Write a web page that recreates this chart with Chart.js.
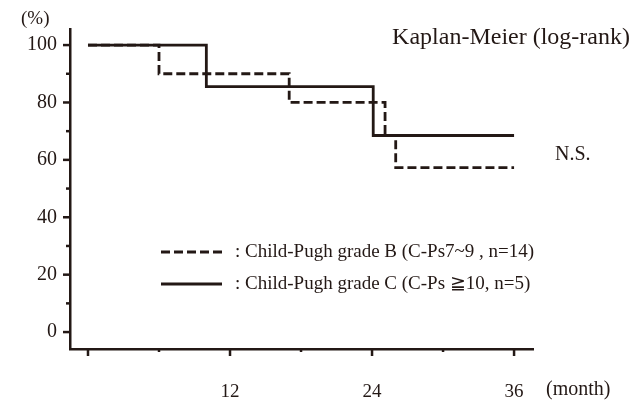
<!DOCTYPE html>
<html>
<head>
<meta charset="utf-8">
<script src="https://cdn.jsdelivr.net/npm/chart.js@4/dist/chart.umd.min.js"></script>
<style>
  html, body { margin: 0; padding: 0; background: #fff; }
  #wrap { width: 633px; height: 401px; }
</style>
</head>
<body>
<div id="wrap"><canvas id="kmChart" width="633" height="401"></canvas></div>
<script>
// Kurva Kaplan-Meier: waktu (bulan) dan survival (%)
const gradeBTimes = [0, 6, 17, 25.1, 26, 36];
const gradeBSurv = [100, 90, 80, 68.5, 57.3, 57.3];
const gradeCTimes = [0, 10, 24.1, 36];
const gradeCSurv = [100, 85.5, 68.5, 68.5];

const gradeBLabel = ": Child-Pugh grade B (C-Ps7~9 , n=14)";
const gradeCLabel = ": Child-Pugh grade C (C-Ps \u226710, n=5)";

// tick sumbu
const xTicks = [0, 6, 12, 18, 24, 30, 36];
const xLabelTicks = [12, 24, 36];
const xMajorTicks = [0, 12, 24, 36];
const yTicks = [0, 10, 20, 30, 40, 50, 60, 70, 80, 90, 100];
const yLabelTicks = [0, 20, 40, 60, 80, 100];

const ink = "#231815";
const serif = "'Liberation Serif', 'Times New Roman', serif";

function toPoints(xs, ys) {
    return xs.map((x, i) => ({ x: x, y: ys[i] }));
}

// plugin untuk tick pendek/panjang dan teks tambahan
const decorPlugin = {
    id: "decor",
    afterDraw(chart) {
        const c = chart.ctx;
        const xs = chart.scales.x;
        const ys = chart.scales.y;
        const left = chart.chartArea.left;
        const bottom = chart.chartArea.bottom;
        c.save();
        c.strokeStyle = ink;
        c.lineWidth = 2.5;
        c.lineCap = "butt";
        yTicks.forEach((v) => {
            const py = ys.getPixelForValue(v);
            const len = yLabelTicks.includes(v) ? 7 : 4;
            c.beginPath();
            c.moveTo(left - len, py);
            c.lineTo(left, py);
            c.stroke();
        });
        xTicks.forEach((v) => {
            const px = xs.getPixelForValue(v);
            const len = xMajorTicks.includes(v) ? 7 : 3;
            c.beginPath();
            c.moveTo(px, bottom);
            c.lineTo(px, bottom + len);
            c.stroke();
        });

        // legenda
        const legend = [
            { label: gradeBLabel, ds: chart.data.datasets[0], y: 252 },
            { label: gradeCLabel, ds: chart.data.datasets[1], y: 284 },
        ];
        legend.forEach((item) => {
            c.setLineDash(item.ds.borderDash || []);
            c.lineWidth = 3;
            c.beginPath();
            c.moveTo(161, item.y);
            c.lineTo(222, item.y);
            c.stroke();
            c.setLineDash([]);
            c.fillStyle = ink;
            c.font = "19px " + serif;
            c.textAlign = "left";
            c.textBaseline = "middle";
            c.fillText(item.label, 235, item.y);
        });

        c.fillStyle = ink;
        c.textBaseline = "middle";
        c.font = "24px " + serif;
        c.textAlign = "right";
        c.fillText("Kaplan-Meier (log-rank)", 630, 38);
        c.font = "20px " + serif;
        c.textAlign = "left";
        c.fillText("N.S.", 555, 155);
        c.font = "19px " + serif;
        c.fillText("(%)", 21, 19);
        c.font = "20px " + serif;
        c.fillText("(month)", 546, 390);
        c.restore();
    },
};

const config = {
    type: "line",
    data: {
        datasets: [
            {
                label: gradeBLabel,
                data: toPoints(gradeBTimes, gradeBSurv),
                borderColor: ink,
                borderWidth: 2.8,
                borderDash: [9, 4],
                stepped: "before",
                pointRadius: 0,
                fill: false,
            },
            {
                label: gradeCLabel,
                data: toPoints(gradeCTimes, gradeCSurv),
                borderColor: ink,
                borderWidth: 2.8,
                stepped: "before",
                pointRadius: 0,
                fill: false,
            },
        ],
    },
    options: {
        responsive: false,
        animation: false,
        layout: {
            padding: { top: 29, right: 100, left: 0, bottom: 0 },
        },
        plugins: {
            legend: { display: false },
            tooltip: { enabled: false },
        },
        scales: {
            x: {
                type: "linear",
                min: -1.52,
                max: 37.6,
                afterBuildTicks: (scale) => {
                    scale.ticks = xTicks.map((v) => ({ value: v }));
                },
                afterFit: (scale) => {
                    scale.height = 52;
                },
                ticks: {
                    autoSkip: false,
                    maxRotation: 0,
                    padding: 32,
                    color: ink,
                    font: { family: serif, size: 19 },
                    callback: (v) => (xLabelTicks.includes(v) ? String(v) : ""),
                },
                grid: { display: false, drawTicks: false },
                border: { display: true, color: ink, width: 2.5 },
            },
            y: {
                min: -5.9,
                max: 105.6,
                afterBuildTicks: (scale) => {
                    scale.ticks = yTicks.map((v) => ({ value: v }));
                },
                afterFit: (scale) => {
                    scale.width = 70;
                },
                ticks: {
                    autoSkip: false,
                    padding: 13,
                    color: ink,
                    font: { family: serif, size: 20 },
                    callback: (v) => (yLabelTicks.includes(v) ? String(v) : ""),
                },
                grid: { display: false, drawTicks: false },
                border: { display: true, color: ink, width: 2.5 },
            },
        },
    },
    plugins: [decorPlugin],
};

const kmChart = new Chart(document.getElementById("kmChart").getContext("2d"), config);
</script>
</body>
</html>
